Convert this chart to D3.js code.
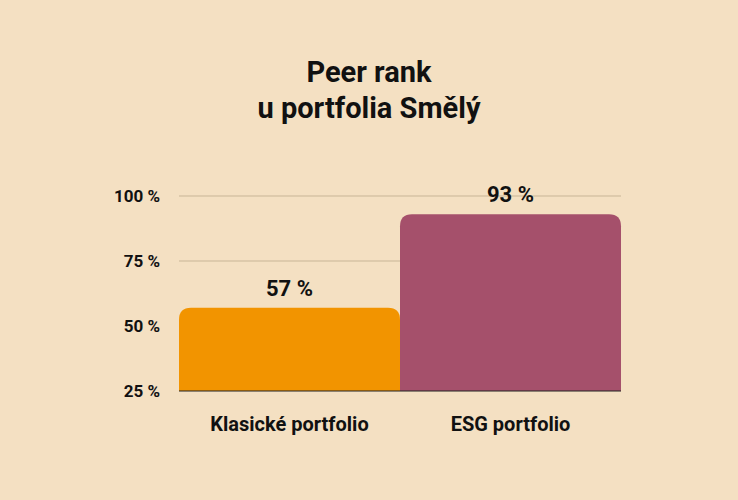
<!DOCTYPE html>
<html><head><meta charset="utf-8">
<script src="https://cdn.jsdelivr.net/npm/d3@7"></script>
<style>body{margin:0;background:#f4e0c2}svg{display:block}text{font-family:Roboto,"DejaVu Sans",sans-serif;font-weight:700;fill:#111}</style>
</head><body><svg id="c" width="738" height="500"></svg>
<script>
const categories = ["Klasické portfolio", "ESG portfolio"];
const values = [57, 93];
const colors = ["#f29400", "#a5506b"];
const tickValues = [25, 50, 75, 100];
const titleLines = ["Peer rank", "u portfolia Smělý"];

const svg = d3.select("#c");
svg.append("rect").attr("width",738).attr("height",500).attr("fill","#f4e0c2");
const x = d3.scaleBand().domain(categories).range([179,621]).padding(0);
const y = d3.scaleLinear().domain([25,100]).range([391,196]);

svg.selectAll(".t").data(titleLines).join("text")
  .attr("x",369).attr("y",(d,i)=>82+i*36).attr("text-anchor","middle")
  .attr("font-size",29).text(d=>d);

svg.selectAll(".g").data(tickValues.slice(1)).join("line")
  .attr("x1",179).attr("x2",621).attr("y1",d=>y(d)).attr("y2",d=>y(d))
  .attr("stroke","#c8b596").attr("stroke-width",1);
svg.selectAll(".yl").data(tickValues).join("text")
  .attr("x",160).attr("y",d=>y(d)+6).attr("text-anchor","end")
  .attr("font-size",17).text(d=>d+" %");

const r = 12;
svg.selectAll(".b").data(values).join("path")
  .attr("fill",(d,i)=>colors[i])
  .attr("d",(d,i)=>{
    const x0=x(categories[i]), w=x.bandwidth(), yt=y(d), yb=y(25);
    return `M${x0},${yb}V${yt+r}Q${x0},${yt} ${x0+r},${yt}H${x0+w-r}Q${x0+w},${yt} ${x0+w},${yt+r}V${yb}Z`;
  });
svg.append("line").attr("x1",179).attr("x2",621).attr("y1",y(25)).attr("y2",y(25))
  .attr("stroke","#222").attr("stroke-width",1.2);

svg.selectAll(".v").data(values).join("text")
  .attr("x",(d,i)=>x(categories[i])+x.bandwidth()/2).attr("y",d=>y(d)-12)
  .attr("text-anchor","middle").attr("font-size",22).text(d=>d+" %");
svg.selectAll(".c").data(categories).join("text")
  .attr("x",d=>x(d)+x.bandwidth()/2).attr("y",431)
  .attr("text-anchor","middle").attr("font-size",20).text(d=>d);
</script></body></html>
